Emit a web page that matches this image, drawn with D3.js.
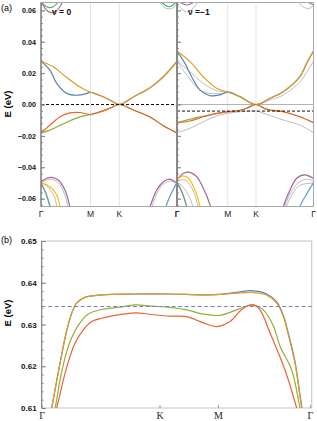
<!DOCTYPE html>
<html>
<head>
<meta charset="utf-8">
<style>
  body { margin: 0; background: #fff; }
  svg { display: block; font-family: "Liberation Sans", Arial, sans-serif; }
</style>
</head>
<body>
<svg id="chart" width="317" height="421"></svg>
<script src="https://cdn.jsdelivr.net/npm/d3@7/dist/d3.min.js"></script>
<script>
// k-path positions of the high symmetry points
var kPathA = [0, 0.577, 0.911, 1.577];
var kLabelsA = ['Γ', 'M', 'K', 'Γ'];
var kPathB = [0, 0.667, 1.0, 1.577];
var kLabelsB = ['Γ', 'K', 'M', 'Γ'];
var yTicksA = [-0.06, -0.04, -0.02, 0, 0.02, 0.04, 0.06];
var yTicksB = [0.61, 0.62, 0.63, 0.64, 0.65];
var fermiA = [0, -0.0042];   // nu = 0, nu = -1
var zeroLine1 = 0;
var fermiB = 0.6343;
var panelNames = ['ν = 0', 'ν =−1'];

// (a) nu = 0 bands  [k, E]
var orange0 = [[0,.0276],[.143,.0240],[.300,.0172],[.455,.0112],[.577,.0078],[.687,.0057],[.803,.0029],[.911,0],[1.073,.0048],[1.266,.0107],[1.42,.0177],[1.577,.0276]];
var blue0 = [[0,.0276],[.105,.0218],[.183,.0135],[.300,.0071],[.416,.0059],[.533,.0070],[.577,.0078],[.687,.0057],[.803,.0029],[.911,0],[1.073,.0048],[1.266,.0107],[1.42,.0177],[1.577,.0276]];
var red0 = [[0,-.0181],[.105,-.0131],[.222,-.0078],[.338,-.0053],[.455,-.0051],[.577,-.0064],[.687,-.0047],[.80,-.0024],[.911,0],[1.073,-.0035],[1.266,-.0080],[1.42,-.0135],[1.577,-.0181]];
var green0 = [[0,-.0181],[.105,-.0163],[.30,-.0113],[.455,-.0079],[.577,-.0064],[.687,-.0047],[.80,-.0024],[.911,0],[1.073,-.0035],[1.266,-.0080],[1.42,-.0135],[1.577,-.0181]];
var purple0a = [[0,-.0492],[.066,-.0470],[.124,-.0464],[.201,-.0481],[.279,-.0545],[.337,-.0650],[.36,-.0700]];
var gray0a = [[0,-.0500],[.066,-.0482],[.124,-.0477],[.201,-.0497],[.27,-.0565],[.32,-.0660],[.34,-.0700]];
var yellow0a = [[0,-.0498],[.105,-.0524],[.183,-.0576],[.221,-.0650],[.235,-.0700]];
var gray0b = [[0,-.0498],[.09,-.0530],[.16,-.0595],[.2,-.0700]];
var blue0a = [[0,-.0498],[.047,-.0555],[.105,-.0650],[.12,-.0700]];
var orange0a = [[0,-.0500],[.06,-.0570],[.11,-.0660],[.125,-.0700]];
var purple0b = [[1.231,-.0700],[1.266,-.0650],[1.343,-.0545],[1.42,-.0492],[1.489,-.0476],[1.554,-.0492],[1.577,-.0502]];
var gray0c = [[1.26,-.0700],[1.29,-.0650],[1.36,-.0550],[1.44,-.0500],[1.50,-.0488],[1.577,-.0505]];
var blue0b = [[1.43,-.0700],[1.45,-.0650],[1.508,-.0571],[1.577,-.0498]];
var green0t = [[0,.0666],[.027,.0640],[.085,.0619],[.143,.0623],[.201,.0655],[.22,.0680]];
var pink0t = [[0,.0660],[.047,.0613],[.105,.0587],[.163,.0591],[.221,.0623],[.26,.0666],[.28,.0700]];
var green0u = [[1.36,.0700],[1.381,.0666],[1.438,.0634],[1.496,.0623],[1.554,.0645],[1.577,.0666]];
var gray0t = [[1.33,.0700],[1.358,.0666],[1.45,.0613],[1.519,.0613],[1.577,.0640]];

// (a) nu = -1 bands
var orange1 = [[0,.0341],[.148,.0273],[.299,.0177],[.451,.0103],[.577,.0080],[.722,.0050],[.911,0],[1.073,.0040],[1.227,.0082],[1.42,.0177],[1.497,.0262],[1.577,.0340]];
var blue1 = [[0,.0341],[.091,.0262],[.167,.0177],[.262,.0092],[.376,.0056],[.49,.0061],[.577,.0080],[.722,.0050],[.911,0],[1.073,.0040],[1.227,.0082],[1.42,.0177],[1.497,.0262],[1.577,.0340]];
var gray1a = [[0,.0276],[.148,.0209],[.299,.0135],[.451,.0088],[.577,.0078],[.722,.0048],[.911,0],[1.073,.0030],[1.227,.0060],[1.42,.0145],[1.577,.0276]];
var gray1b = [[0,.0276],[.11,.0188],[.262,.0092],[.376,.0071],[.49,.0070],[.577,.0076]];
var red1 = [[0,-.0116],[.148,-.0105],[.299,-.0078],[.451,-.0056],[.577,-.0046],[.70,-.0040],[.80,-.0024],[.911,0],[1.02,-.0028],[1.073,-.0035],[1.227,-.0046],[1.42,-.0078],[1.577,-.0116]];
var olive1 = [[0,-.0116],[.186,-.0088],[.376,-.0067],[.577,-.0046],[.70,-.0040],[.80,-.0024],[.911,0],[1.02,-.0028],[1.073,-.0035],[1.227,-.0046],[1.42,-.0078],[1.577,-.0116]];
var gray1c = [[0,-.0180],[.148,-.0152],[.299,-.0110],[.451,-.0073],[.577,-.0056],[.75,-.0045],[.911,-.0042],[1.073,-.0070],[1.227,-.0099],[1.42,-.0131],[1.577,-.0180]];
var purple1a = [[0,-.0481],[.075,-.0438],[.148,-.0432],[.224,-.0460],[.299,-.0534],[.376,-.0640],[.40,-.0700]];
var yellow1a = [[0,-.0478],[.075,-.0455],[.129,-.0470],[.205,-.0545],[.262,-.0650],[.275,-.0700]];
var gray1d = [[0,-.0490],[.09,-.0480],[.18,-.0545],[.24,-.0650],[.255,-.0700]];
var gray1e = [[0,-.0495],[.06,-.0520],[.15,-.0600],[.2,-.0700]];
var blue1a = [[0,-.0492],[.057,-.0558],[.11,-.0650],[.13,-.0700]];
var orange1a = [[0,-.0495],[.07,-.0580],[.12,-.0670],[.13,-.0700]];
var purple1b = [[1.20,-.0700],[1.227,-.0650],[1.305,-.0545],[1.383,-.0470],[1.479,-.0449],[1.577,-.0472]];
var gray1f = [[1.225,-.0700],[1.245,-.0650],[1.32,-.0555],[1.40,-.0500],[1.48,-.0478],[1.577,-.0485]];
var gray1g = [[1.245,-.0700],[1.265,-.0650],[1.35,-.0555],[1.42,-.0515],[1.577,-.0500]];
var blue1b = [[1.40,-.0700],[1.42,-.0650],[1.497,-.0571],[1.577,-.0498]];
var pink1t = [[0,.0700],[.011,.0666],[.057,.0645],[.114,.0634],[.17,.0645],[.205,.0666],[.22,.0700]];
var gray1t = [[0,.0650],[.011,.0634],[.068,.0602],[.125,.0591],[.182,.0613],[.228,.0645],[.25,.0680]];
var gray1u = [[1.37,.0700],[1.396,.0666],[1.454,.0623],[1.535,.0613],[1.577,.0634]];
var green1u = [[1.46,.0700],[1.48,.0666],[1.535,.0645],[1.577,.0634]];

// (b) bands
var orangeB = [[.0283,.6035],[.0566,.6100],[.0849,.6165],[.1132,.6228],[.1416,.6285],[.1699,.6327],[.1982,.6352],[.2452,.6365],[.3397,.6371],[.5283,.6373],[.7268,.6373],[.9163,.6371],[1.0125,.6372],[1.1173,.6375],[1.2114,.6377],[1.3054,.6370],[1.3682,.6351],[1.4096,.6319],[1.4409,.6275],[1.4830,.6207],[1.5143,.6127],[1.5250,.6100],[1.5457,.6045]];
var blueB = [[.0283,.6035],[.0566,.6100],[.0849,.6165],[.1132,.6228],[.1416,.6285],[.1699,.6327],[.1982,.6352],[.2452,.6365],[.3397,.6371],[.5283,.6373],[.7268,.6373],[.9163,.6371],[1.0125,.6372],[1.1173,.6377],[1.2114,.6381],[1.3054,.6373],[1.3682,.6354],[1.4096,.6322],[1.4409,.6279],[1.4830,.6211],[1.5143,.6131],[1.5270,.6100],[1.5470,.6045]];
var greenB = [[.047,.6068],[.0753,.6100],[.1036,.6167],[.1416,.6235],[.1699,.6268],[.2072,.6298],[.2639,.6325],[.3397,.6336],[.4337,.6341],[.5283,.6347],[.6228,.6344],[.7268,.6341],[.8218,.6335],[.9163,.6325],[1.0125,.6322],[1.1173,.6335],[1.2114,.6347],[1.2842,.6335],[1.3469,.6297],[1.3889,.6248],[1.4623,.6191],[1.5143,.6100],[1.5331,.6070]];
var redB = [[.0583,.6065],[.0849,.6100],[.1223,.6167],[.1602,.6223],[.1885,.6255],[.2355,.6287],[.2831,.6307],[.3397,.6315],[.4337,.6323],[.5283,.6328],[.6228,.6324],[.7268,.6320],[.8218,.6319],[.9163,.6304],[.9926,.6295],[1.0753,.6307],[1.1587,.6339],[1.2214,.6347],[1.2634,.6335],[1.3261,.6280],[1.4202,.6191],[1.4936,.6100],[1.5143,.6070]];

var C = { blue: '#5E81B5', orange: '#E19C24', green: '#8FB032', red: '#EB6235',
          purple: '#A5609D', yellow: '#FFBF00', lblue: '#5D9EC7', teal: '#47B66D',
          pink: '#C0607A', gray: '#b4b4b4' };

var svg = d3.select('#chart');

var xA = [
  d3.scaleLinear().domain(kPathA).range([41, 90.5, 119.3, 177]),
  d3.scaleLinear().domain(kPathA).range([177, 227.7, 256, 313.5])
];
var yA = d3.scaleLinear().domain([-0.065, 0.065]).range([206.5, 2.5]);
var xB = d3.scaleLinear().domain(kPathB).range([41.7, 159.5, 218, 310]);
var yB = d3.scaleLinear().domain([0.61, 0.65]).range([408, 241]);

var bandsA = [
  [[gray0a, 'gray'], [gray0b, 'gray'], [gray0c, 'gray'], [gray0t, 'gray'],
   [purple0a, 'purple'], [yellow0a, 'yellow'], [orange0a, 'orange'], [blue0a, 'lblue'],
   [purple0b, 'purple'], [blue0b, 'lblue'], [green0t, 'teal'], [pink0t, 'pink'], [green0u, 'teal'],
   [blue0, 'blue'], [orange0, 'orange'], [green0, 'green'], [red0, 'red']],
  [[gray1a, 'gray'], [gray1b, 'gray'], [gray1c, 'gray'], [gray1d, 'gray'], [gray1e, 'gray'],
   [gray1f, 'gray'], [gray1g, 'gray'], [gray1t, 'gray'], [gray1u, 'gray'],
   [purple1a, 'purple'], [yellow1a, 'yellow'], [orange1a, 'orange'], [blue1a, 'lblue'],
   [purple1b, 'purple'], [blue1b, 'lblue'], [pink1t, 'pink'], [green1u, 'teal'],
   [blue1, 'blue'], [orange1, 'orange'], [olive1, 'green'], [red1, 'red']]
];

var defs = svg.append('defs');

// ---------- panel (a) ----------
[0, 1].forEach(function(p) {
  var x = xA[p];
  var x0 = x.range()[0], x1 = x.range()[3];
  defs.append('clipPath').attr('id', 'clipA' + p)
    .append('rect').attr('x', x0).attr('y', yA.range()[1])
    .attr('width', x1 - x0).attr('height', yA.range()[0] - yA.range()[1]);

  var g = svg.append('g');
  // grid at M and K
  g.selectAll('.grid').data(kPathA.slice(1, 3)).enter().append('line')
    .attr('x1', function(d) { return x(d); }).attr('x2', function(d) { return x(d); })
    .attr('y1', yA.range()[1]).attr('y2', yA.range()[0])
    .attr('stroke', '#dcdcdc').attr('stroke-width', 0.8);

  if (p === 1) {
    g.append('line').attr('x1', x0).attr('x2', x1)
      .attr('y1', yA(zeroLine1)).attr('y2', yA(zeroLine1))
      .attr('stroke', '#a0a0a0').attr('stroke-width', 0.8);
  }

  var line = d3.line().x(function(d) { return x(d[0]); }).y(function(d) { return yA(d[1]); })
    .curve(d3.curveCatmullRom.alpha(0.5));
  var bg = g.append('g').attr('clip-path', 'url(#clipA' + p + ')');
  bandsA[p].forEach(function(b) {
    bg.append('path').attr('d', line(b[0])).attr('fill', 'none')
      .attr('stroke', C[b[1]]).attr('stroke-width', b[1] === 'gray' ? 0.9 : 1.2);
  });

  g.append('line').attr('x1', x0).attr('x2', x1)
    .attr('y1', yA(fermiA[p])).attr('y2', yA(fermiA[p]))
    .attr('stroke', '#111').attr('stroke-width', 1).attr('stroke-dasharray', '3,2');

  // frame
  g.append('rect').attr('x', x0).attr('y', yA.range()[1])
    .attr('width', x1 - x0).attr('height', yA.range()[0] - yA.range()[1])
    .attr('fill', 'none').attr('stroke', '#a8a8a8').attr('stroke-width', 1);

  // y ticks (inward)
  var ax = g.append('g').attr('transform', 'translate(' + x0 + ',0)')
    .call(d3.axisLeft(yA).tickValues(yTicksA).tickSize(-4).tickPadding(5)
      .tickFormat(p === 0 ? d3.format('.2f') : ''));
  ax.select('.domain').remove();
  ax.selectAll('line').attr('stroke', '#777');
  ax.selectAll('text').attr('font-size', 7.2).attr('font-weight', 'bold')
    .attr('font-family', '"Liberation Sans", Arial, sans-serif').attr('fill', '#111');
  var mx = g.append('g').attr('transform', 'translate(' + x0 + ',0)')
    .call(d3.axisLeft(yA).tickValues(d3.range(-0.064, 0.065, 0.004)).tickSize(-2).tickFormat(''));
  mx.select('.domain').remove();
  mx.selectAll('line').attr('stroke', '#999');

  g.append('line').attr('x1', x0).attr('x2', x0).attr('y1', yA.range()[1]).attr('y2', yA.range()[0])
    .attr('stroke', p === 0 ? '#666' : '#888').attr('stroke-width', p === 0 ? 1 : 2);

  // x labels
  g.selectAll('.kl').data(kPathA).enter().append('text')
    .attr('x', function(d) { return x(d); }).attr('y', 217)
    .attr('text-anchor', 'middle').attr('font-size', 8.5).attr('fill', '#222')
    .text(function(d, i) { return kLabelsA[i]; });

  g.append('text').attr('x', x0 + 11).attr('y', 15)
    .attr('font-size', 8.5).attr('font-weight', 'bold').attr('fill', '#111')
    .text(panelNames[p]);
});

svg.append('text').attr('x', 1).attr('y', 11).attr('font-size', 9).text('(a)');
svg.append('text').attr('transform', 'translate(11,104) rotate(-90)')
  .attr('text-anchor', 'middle').attr('font-size', 9.5).attr('font-weight', 'bold').text('E (eV)');

// ---------- panel (b) ----------
defs.append('clipPath').attr('id', 'clipB')
  .append('rect').attr('x', 41.7).attr('y', 241).attr('width', 270).attr('height', 167);

var gb = svg.append('g');
gb.append('rect').attr('x', 41.7).attr('y', 241).attr('width', 270).attr('height', 167)
  .attr('fill', 'none').attr('stroke', '#c4c4c4').attr('stroke-width', 1);

var lineB = d3.line().x(function(d) { return xB(d[0]); }).y(function(d) { return yB(d[1]); })
  .curve(d3.curveCatmullRom.alpha(0.5));
var bbg = gb.append('g').attr('clip-path', 'url(#clipB)');
[[blueB, 'blue'], [orangeB, 'orange'], [greenB, 'green'], [redB, 'red']].forEach(function(b) {
  bbg.append('path').attr('d', lineB(b[0])).attr('fill', 'none')
    .attr('stroke', C[b[1]]).attr('stroke-width', 1.2);
});
gb.append('line').attr('x1', 41.7).attr('x2', 311.7).attr('y1', yB(fermiB)).attr('y2', yB(fermiB))
  .attr('stroke', '#7f7fcc').attr('stroke-width', 1.1).attr('stroke-dasharray', '4,2.5');

var axB = gb.append('g').attr('transform', 'translate(41.7,0)')
  .call(d3.axisLeft(yB).tickValues(yTicksB).tickSize(-4).tickPadding(5).tickFormat(d3.format('.2f')));
axB.select('.domain').remove();
axB.selectAll('line').attr('stroke', '#777');
axB.selectAll('text').attr('font-size', 8).attr('font-weight', 'bold')
  .attr('font-family', '"Liberation Sans", Arial, sans-serif').attr('fill', '#111');
var mxB = gb.append('g').attr('transform', 'translate(41.7,0)')
  .call(d3.axisLeft(yB).tickValues(d3.range(0.612, 0.65, 0.002)).tickSize(-2).tickFormat(''));
mxB.select('.domain').remove();
mxB.selectAll('line').attr('stroke', '#999');
gb.append('line').attr('x1', 41.7).attr('x2', 41.7).attr('y1', 241).attr('y2', 408)
  .attr('stroke', '#777').attr('stroke-width', 1);

var axBx = gb.append('g').attr('transform', 'translate(0,408)')
  .call(d3.axisBottom(xB).tickValues(kPathB).tickSize(-3).tickPadding(4)
    .tickFormat(function(d, i) { return kLabelsB[i]; }));
axBx.select('.domain').remove();
axBx.selectAll('line').attr('stroke', '#999');
axBx.selectAll('text').attr('font-size', 10).attr('fill', '#222')
  .attr('font-family', '"Liberation Serif", "Times New Roman", serif');

svg.append('text').attr('x', 1).attr('y', 243).attr('font-size', 9).text('(b)');
svg.append('text').attr('transform', 'translate(11,313) rotate(-90)')
  .attr('text-anchor', 'middle').attr('font-size', 9.5).attr('font-weight', 'bold').text('E (eV)');
</script>
</body>
</html>
